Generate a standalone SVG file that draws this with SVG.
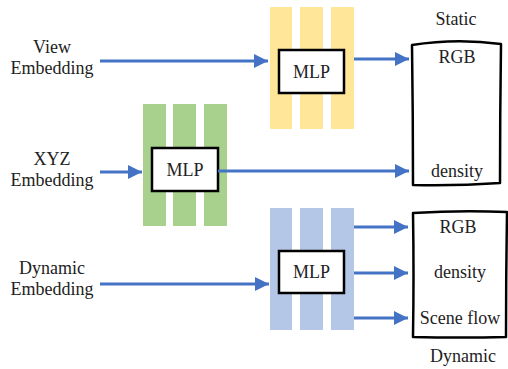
<svg xmlns="http://www.w3.org/2000/svg" width="508" height="369" viewBox="0 0 508 369">
<style>
text{font-size:18px;fill:#222;text-anchor:middle}
.bar-y{fill:#FFE699}
.bar-g{fill:#A9D18E}
.bar-b{fill:#B4C7E7}
.mlp{fill:#fff;stroke:#000;stroke-width:2.5}
.out{fill:#fff;stroke:#000;stroke-width:2.5;stroke-linejoin:round}
.arr{stroke:#4472C4;stroke-width:3;fill:none;marker-end:url(#ah)}
</style>
<defs>
<marker id="ah" markerUnits="userSpaceOnUse" markerWidth="15" markerHeight="14" refX="14" refY="7" orient="auto">
<path d="M0,0 L14,7 L0,14 z" fill="#4472C4"/>
</marker>
</defs>
<g font-family="'Liberation Serif', 'DejaVu Serif', serif">
<g id="labels">
<text x="52" y="53">View</text>
<text x="52" y="74">Embedding</text>
<text x="52" y="165">XYZ</text>
<text x="52" y="186">Embedding</text>
<text x="52" y="274">Dynamic</text>
<text x="52" y="295">Embedding</text>
</g>
<g id="mlp-static">
<rect class="bar-y" x="270" y="7" width="22" height="122"/>
<rect class="bar-y" x="300" y="7" width="23" height="122"/>
<rect class="bar-y" x="331" y="7" width="23" height="122"/>
<rect class="mlp" x="279" y="50" width="65" height="43"/>
<text x="311.5" y="78">MLP</text>
</g>
<g id="mlp-xyz">
<rect class="bar-g" x="143" y="104" width="23" height="122"/>
<rect class="bar-g" x="173" y="104" width="23" height="122"/>
<rect class="bar-g" x="204" y="104" width="23" height="122"/>
<rect class="mlp" x="152" y="148" width="66" height="43"/>
<text x="185" y="176">MLP</text>
</g>
<g id="mlp-dynamic">
<rect class="bar-b" x="270" y="208" width="22" height="122"/>
<rect class="bar-b" x="300" y="208" width="23" height="122"/>
<rect class="bar-b" x="331" y="208" width="23" height="122"/>
<rect class="mlp" x="279" y="251" width="65" height="42"/>
<text x="311.5" y="278">MLP</text>
</g>
<g id="static-out">
<path class="out" d="M412,45 Q456,38 501,44 Q500,114 500,183 Q456,186 413,185 Q413,115 412,45 Z"/>
<text x="456" y="25">Static</text>
<text x="457" y="63">RGB</text>
<text x="457" y="177">density</text>
</g>
<g id="dynamic-out">
<path class="out" d="M413,213 Q460,210 507,212 Q506,275 506,337 Q460,338 413,337 Q414,275 413,213 Z"/>
<text x="458" y="233">RGB</text>
<text x="460" y="278">density</text>
<text x="460" y="324">Scene flow</text>
<text x="463" y="362">Dynamic</text>
</g>
</g>
<g id="connectors">
<line class="arr" x1="100" y1="61" x2="268" y2="61"/>
<line class="arr" x1="354" y1="59" x2="409" y2="59"/>
<line class="arr" x1="100" y1="172" x2="142" y2="172"/>
<line class="arr" x1="218" y1="171" x2="409" y2="171"/>
<line class="arr" x1="100" y1="284" x2="269" y2="284"/>
<line class="arr" x1="354" y1="227" x2="408" y2="227"/>
<line class="arr" x1="354" y1="273" x2="408" y2="273"/>
<line class="arr" x1="354" y1="318" x2="408" y2="318"/>
</g>
</svg>
